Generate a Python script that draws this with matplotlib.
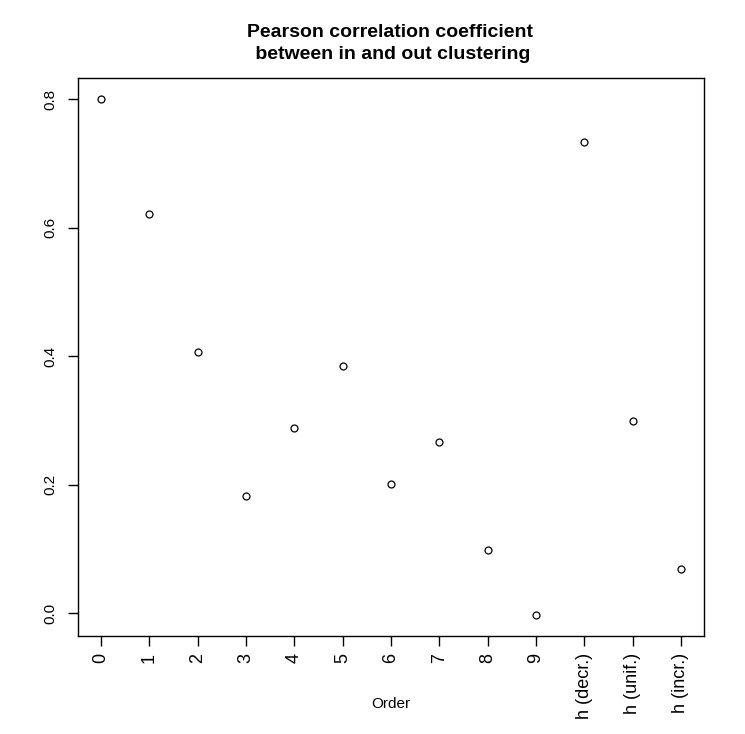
import matplotlib
matplotlib.use("Agg")
import matplotlib.pyplot as plt

plt.rcParams['font.family'] = ['Liberation Sans', 'DejaVu Sans']

categories = ["0", "1", "2", "3", "4", "5", "6", "7", "8", "9",
              "h (decr.)", "h (unif.)", "h (incr.)"]
values = [0.801, 0.622, 0.407, 0.182, 0.288, 0.385, 0.201, 0.267,
          0.098, -0.003, 0.734, 0.299, 0.069]
yticks = [0.0, 0.2, 0.4, 0.6, 0.8]
ytick_labels = ["0.0", "0.2", "0.4", "0.6", "0.8"]

W, H = 745, 734
fig = plt.figure(figsize=(W / 100, H / 100), dpi=100)
left, right, top, bottom = 78, 704, 78, 636
ax = fig.add_axes([left / W, (H - bottom) / H, (right - left) / W, (bottom - top) / H])

x = list(range(len(categories)))
ax.plot(x, values, linestyle='none', marker='o', markersize=5,
        markerfacecolor='white', markeredgecolor='black', markeredgewidth=0.9)

n = len(categories) - 1
pad = 0.04 * n
ax.set_xlim(-pad, n + pad)
ymin, ymax = min(values), max(values)
ypad = 0.04 * (ymax - ymin)
ax.set_ylim(ymin - ypad, ymax + ypad)

ax.set_xticks(x)
ax.set_xticklabels(categories, rotation=90, fontsize=13)
ax.set_yticks(yticks)
ax.set_yticklabels(ytick_labels, rotation=90, va='center', fontsize=11)
ax.tick_params(direction='out', length=7, width=1)
ax.tick_params(axis='x', pad=5)
ax.tick_params(axis='y', pad=8)

for s in ax.spines.values():
    s.set_linewidth(1)

fig.text(391 / W, 1 - 704 / H, "Order", ha='center', va='center', fontsize=11)
fig.text(390 / W, 1 - 37 / H, "Pearson correlation coefficient",
         ha='center', va='baseline', fontsize=14, fontweight='bold')
fig.text(390 / W, 1 - 59 / H, " between in and out clustering",
         ha='center', va='baseline', fontsize=14, fontweight='bold')

fig.savefig("out.png", dpi=100)
